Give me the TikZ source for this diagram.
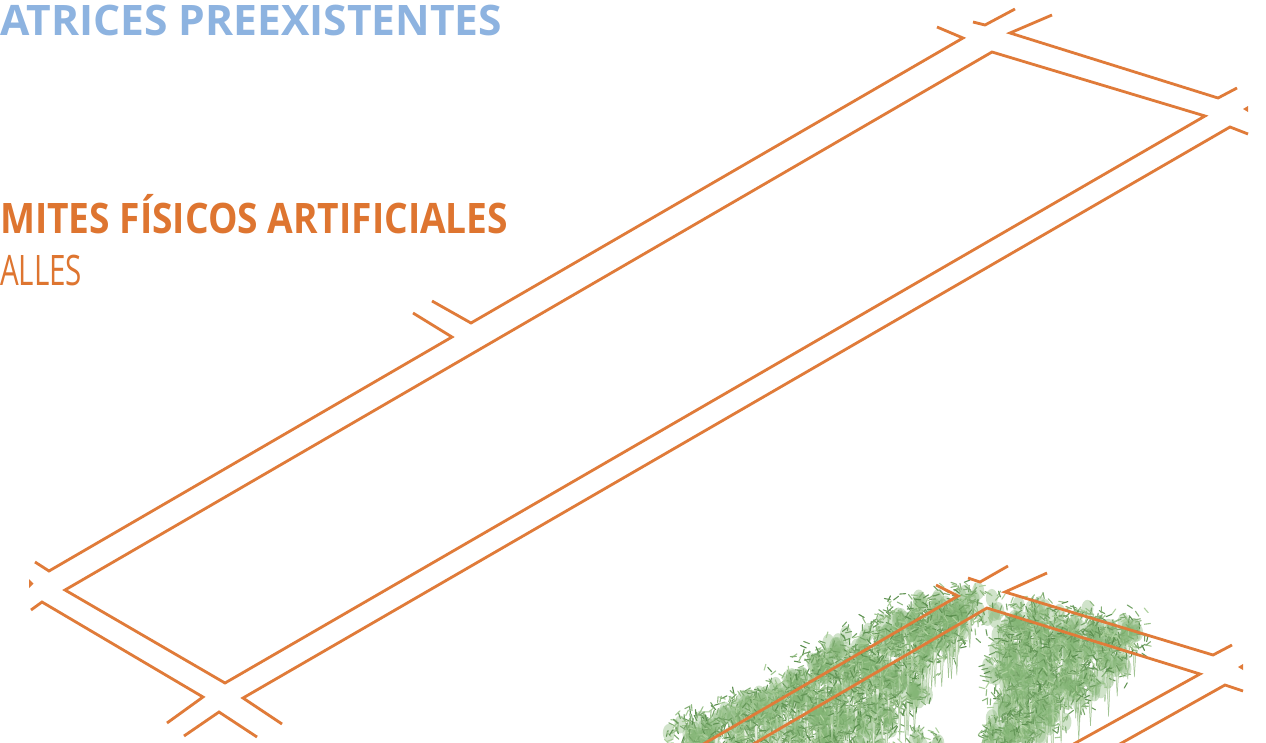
\documentclass[tikz,border=0pt]{standalone}
\usepackage{fontspec}
\usepackage{graphicx}
\setmainfont{Open Sans}

\definecolor{streetorange}{HTML}{E07B39}
\definecolor{titleorange}{HTML}{DE7530}
\definecolor{titleblue}{HTML}{8DB3E0}
\definecolor{leafdark}{HTML}{578C4B}
\definecolor{leaflight}{HTML}{B3D5A3}
\definecolor{leafmid}{HTML}{84B676}
\definecolor{stemfill}{HTML}{E6F0E0}
\definecolor{stemline}{HTML}{A2C494}

% text stretched or squeezed horizontally to a given width (in pt)
\newsavebox\fitbox
\newlength\fitwd
\newcommand\fitto[2]{\sbox\fitbox{#2}\setlength\fitwd{\wd\fitbox}%
  \pgfmathsetmacro\fitscale{#1/\fitwd}\scalebox{\fitscale}[1]{\usebox\fitbox}}

% one bamboo clump: foot x, foot y, height
\newcommand\clump[3]{%
  \begin{scope}[shift={(#1,#2)}]
    \pgfmathsetmacro\stemlen{#3*0.5}
    \fill[stemfill] (-1.8,-\stemlen) -- (0,0) -- (1.8,-\stemlen) -- cycle;
    \draw[stemline, line width=0.5pt] (-1.8,-\stemlen) -- (0,0) -- (1.8,-\stemlen);
    \foreach \kb in {1,...,5}{
      \pgfmathsetmacro\bx{(rnd-0.5)*#3*0.38}
      \pgfmathsetmacro\by{-#3*(0.45+rnd*0.45)}
      \fill[leafmid, opacity=0.38] (\bx,\by) ellipse (6pt and 9pt);
    }
    \foreach \kl in {1,...,30}{
      \pgfmathsetmacro\lx{(rnd-0.5)*#3*0.5}
      \pgfmathsetmacro\ly{-#3*(0.38+rnd*0.62)}
      \pgfmathsetmacro\la{rnd*360}
      \pgfmathtruncatemacro\lm{rnd*100}
      \draw[leaf, draw=leafdark!\lm!leaflight] (\lx,\ly) -- ++(\la:6);
    }
  \end{scope}}

\begin{document}
\begin{tikzpicture}[x=1pt, y=-1pt,
  street/.style={draw=streetorange, line width=2.8pt, line join=miter},
  streetend/.style={fill=streetorange},
  leaf/.style={line width=1.1pt, line cap=round},
  title/.style={anchor=base west, inner sep=0pt, font=\bfseries\fontsize{42}{48}\selectfont},
  subtitle/.style={anchor=base west, inner sep=0pt, font=\fontsize{42}{48}\selectfont}]

\useasboundingbox (0,0) rectangle (1266,742);
\clip (0,0) rectangle (1266,742);
\fill[white] (0,0) rectangle (1266,742);

% ---- headings ----
\node[title, text=titleblue] (matrices) at (0,35) {\fitto{502}{ATRICES PREEXISTENTES}};
\node[title, text=titleorange] (limites) at (0,233) {\fitto{508}{MITES FÍSICOS ARTIFICIALES}};
\node[subtitle, text=titleorange] (calles) at (0,285) {\fitto{82}{ALLES}};

% ---- long block and the streets around it ----
\draw[street] (937,27) -- (963,38) -- (471,323) -- (432,301);
\draw[street] (413,313) -- (452,337) -- (49,571) -- (35,562);
\draw[street] (973,22) -- (985,25) -- (1015,9);
\draw[street] (1052,15) -- (1010,33) -- (1218,98) -- (1237,88);
\fill[streetend] (1243,109) -- (1248,106) -- (1248,112) -- cycle;
\draw[street] (1248,134) -- (1230,127) -- (243,698) -- (282,724);
\draw[street] (184,736) -- (219,712) -- (257,737);
\draw[street] (167,723) -- (203,697) -- (42,602) -- (31,610);
\fill[streetend] (29,579) -- (33.5,583.5) -- (29,588) -- cycle;
\draw[street] (992,52) -- (1205,116) -- (225,683) -- (65,590) -- cycle;

% ---- bamboo along the next block ----
\pgfmathsetseed{2718}
% band along the upper-left street, kept left of the open corner
\foreach \ia in {0,...,44}{
  \pgfmathsetmacro\ta{-0.15+1.15*\ia/44}
  \foreach \oxa/\oya in {0/0, 4/30, 8/60, 12/90}{
    \pgfmathsetmacro\fxa{720+250*\ta+\oxa+(rnd-0.5)*14}
    \pgfmathsetmacro\fya{775-135*\ta+\oya+(rnd-0.5)*14}
    \pgfmathsetmacro\fha{56+rnd*22}
    \pgfmathtruncatemacro\oka{and(\fxa+0.2*\fha < 992-(\fya-0.7*\fha-600)*0.7, or(\fxa<762,\fxa>800) || \oya<1 || rnd>0.5)}
    \ifnum\oka=1
      \clump{\fxa}{\fya}{\fha}
    \fi
  }
}
% band inside the corner of the next block
\foreach \cx in {1004,1014,...,1144}{
  \pgfmathsetmacro\ytop{662+(\cx-1000)*0.15}
  \pgfmathsetmacro\ybot{732-(\cx-1085)*1.0}
  \foreach \jb in {0,...,6}{
    \pgfmathsetmacro\fxb{\cx+(rnd-0.5)*10}
    \pgfmathsetmacro\fyb{\ytop+22*\jb+(rnd-0.5)*12}
    \pgfmathtruncatemacro\okb{and(\fyb<\ybot+6,\fyb<800)}
    \ifnum\okb=1
      \pgfmathsetmacro\fhb{58+rnd*20}
      \clump{\fxb}{\fyb}{\fhb}
    \fi
  }
}
\clump{912}{772}{42}
\clump{930}{778}{46}
\clump{992}{768}{40}

% ---- next block and its streets ----
\draw[street] (936,585) -- (958,596) -- (700,746);
\draw[street] (968,578) -- (980,582) -- (1008,566);
\draw[street] (1047,573) -- (1005,592) -- (1213,655) -- (1232,645);
\fill[streetend] (1238,667) -- (1243,664) -- (1243,670) -- cycle;
\draw[street] (1243,691) -- (1225,685) -- (1118,745);
\draw[street] (750,746) -- (987,608) -- (1200,674) -- (1070,746);

\end{tikzpicture}
\end{document}
